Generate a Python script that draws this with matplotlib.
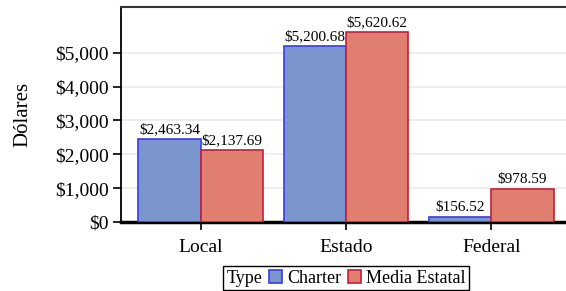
import matplotlib.pyplot as plt
import numpy as np
from matplotlib.ticker import FuncFormatter

categories = ["Local", "Estado", "Federal"]
series_names = ["Charter", "Media Estatal"]
charter = [2463.34, 5200.68, 156.52]
media_estatal = [2137.69, 5620.62, 978.59]

fill_colors = ["#7b96cc", "#e07f70"]
edge_colors = ["#3b3be6", "#c41e3a"]

plt.rcParams["font.family"] = ["Liberation Serif", "DejaVu Serif"]

fig = plt.figure(figsize=(5.66, 2.91), dpi=100)
ax = fig.add_axes([121 / 566, 69 / 291, 450 / 566, 215 / 291])

x = np.arange(len(categories))
width = 0.43
for i, (vals, name) in enumerate(zip([charter, media_estatal], series_names)):
    offs = (i - 0.5) * width
    bars = ax.bar(x + offs, vals, width, color=fill_colors[i],
                  edgecolor=edge_colors[i], linewidth=1.2, label=name, zorder=3)
    for b, v in zip(bars, vals):
        ax.text(b.get_x() + b.get_width() / 2, v + 80, f"${v:,.2f}",
                ha="center", va="bottom", fontsize=11, zorder=4)

ax.set_xlim(-0.55, 2.55)
ax.set_ylim(0, 6350)
ax.set_yticks(np.arange(0, 5001, 1000))
ax.yaxis.set_major_formatter(FuncFormatter(lambda v, p: f"${v:,.0f}"))
ax.set_xticks(x)
ax.set_xticklabels(categories)
ax.tick_params(axis="both", labelsize=14, length=6, width=1.2, direction="out")
ax.tick_params(axis="x", pad=6)
ax.tick_params(axis="y", pad=3)
ax.set_ylabel("Dólares", fontsize=15, labelpad=16)

ax.grid(axis="y", color="#ebebeb", linewidth=1.2, zorder=0)
ax.set_axisbelow(True)
ax.spines["bottom"].set_linewidth(2.5)
ax.spines["left"].set_linewidth(1.3)
ax.spines["top"].set_linewidth(1.5)
ax.spines["top"].set_color("#333333")
ax.spines["right"].set_visible(False)

leg = ax.legend(title="Type", ncol=2, loc="upper center",
                bbox_to_anchor=(0.5, -0.205), fontsize=13, title_fontsize=13,
                frameon=True, fancybox=False, framealpha=1, edgecolor="black",
                handlelength=0.75, handleheight=0.75, handletextpad=0.28,
                columnspacing=0.35, borderpad=0.2, borderaxespad=0)
leg.get_frame().set_linewidth(1.0)
# put the legend title on the same row as the entries
c = leg.get_children()[0]
title = c.get_children()[0]
hpack = c.get_children()[1]
c._children = [hpack]
hpack._children = [title] + hpack.get_children()

fig.savefig("out.png", dpi=100)
